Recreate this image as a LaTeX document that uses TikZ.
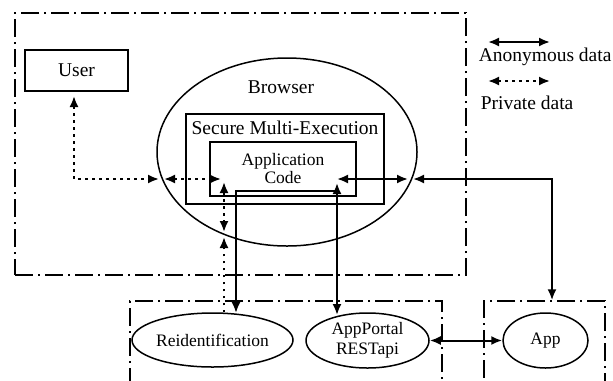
\documentclass[tikz,border=0pt]{standalone}
\usepackage{fontspec}
\setmainfont{Liberation Serif}
\usetikzlibrary{arrows.meta,positioning,shapes.geometric}

\newcommand{\lblfont}{\fontsize{9.75}{11}\selectfont}
\newcommand{\ovalfont}{\fontsize{8.75}{10}\selectfont}

\begin{document}
\begin{tikzpicture}[x=0.5pt,y=-0.5pt,>={Latex[length=5.5pt,width=4.5pt]},line width=0.75pt]
\tikzstyle{zone} = [draw, rectangle, dash pattern=on 9pt off 2.5pt on 1pt off 2.5pt]
\tikzstyle{block} = [draw, rectangle, inner sep=0pt]
\tikzstyle{oval} = [draw, ellipse, inner sep=0pt, align=center, font=\ovalfont]
\tikzstyle{anon} = [line width=1pt]
\tikzstyle{priv} = [line width=1pt, dash pattern=on 1.3pt off 2.2pt]

\useasboundingbox (0,0) rectangle (613,380);

% dash-dot zones
\node [zone, minimum width=225.5pt, minimum height=131pt] (client) at (240.5,144) {};
\node [zone, minimum width=156pt, minimum height=59.5pt] (server) at (286,360.5) {};
\node [zone, minimum width=60.5pt, minimum height=59.5pt] (appzone) at (544.5,360.5) {};

% client side
\node [block, minimum width=51.5pt, minimum height=20.5pt, font=\lblfont] (user) at (76.5,70.5) {User};
\node [draw, ellipse, minimum width=130pt, minimum height=94pt, inner sep=0pt] (browser) at (287,152) {};
\node [font=\lblfont] (browserlbl) at (281,87) {Browser};
\node [block, minimum width=99pt, minimum height=45pt] (sme) at (285,159) {};
\node [font=\lblfont] (smelbl) at (285,128) {Secure Multi-Execution};
\node [block, minimum width=73pt, minimum height=27pt, align=center, font=\fontsize{8.75}{9}\selectfont] (appcode) at (283,169) {Application\\Code};

% server side
\node [oval, minimum width=80.5pt, minimum height=27pt] (reid) at (212.5,340) {Reidentification};
\node [oval, minimum width=61.5pt, minimum height=27.5pt] (portal) at (367.5,340.5) {AppPortal\\RESTapi};
\node [oval, minimum width=42.5pt, minimum height=27.5pt] (app) at (545.5,340.5) {App};

% connector ends
\coordinate (u-s) at (74,96);
\coordinate (bw-out) at (159,179);
\coordinate (bw-in) at (164,179);
\coordinate (ac-w) at (221,179);
\coordinate (ac-sw) at (224,182);
\coordinate (bs-in) at (224,232);
\coordinate (bs-out) at (224,237);
\coordinate (ac-e) at (337,179);
\coordinate (ac-se) at (337,183);
\coordinate (jn) at (337,191);
\coordinate (be-in) at (408,179);
\coordinate (be-out) at (413,179);
\coordinate (rt) at (236,313);
\coordinate (pt) at (337,315);

% private data
\draw [priv,<->] (u-s) |- (bw-out);
\draw [priv,<->] (bw-in) -- (ac-w);
\draw [priv,<->] (ac-sw) -- (bs-in);
\draw [priv,->] (reid.north -| bs-out) -- (bs-out);

% anonymous data
\draw [anon,<->] (pt) -- (ac-se);
\draw [anon,->] (jn) -| (rt);
\draw [anon,<->] (ac-e) -- (be-in);
\draw [anon,<->] (be-out) -| ([xshift=3.75pt]appzone.north);
\draw [anon,<->] (portal.east) -- (app.west);

% legend
\coordinate (la-l) at (488,42);
\coordinate (la-r) at (550,42);
\coordinate (lp-l) at (488,81);
\coordinate (lp-r) at (550,81);
\draw [anon,<->] (la-l) -- (la-r);
\draw [priv,<->] (lp-l) -- (lp-r);
\node [font=\lblfont, anchor=west, inner sep=0pt] (la-txt) at (478,57) {Anonymous data};
\node [font=\lblfont, anchor=west, inner sep=0pt] (lp-txt) at (480,103) {Private data};
\end{tikzpicture}
\end{document}
